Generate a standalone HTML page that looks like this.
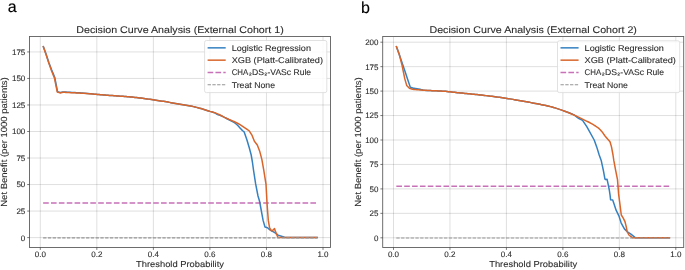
<!DOCTYPE html>
<html><head><meta charset="utf-8"><style>
html,body{margin:0;padding:0;background:#fff;width:685px;height:270px;overflow:hidden;font-family:"Liberation Sans", sans-serif;}
svg{display:block;will-change:transform}
</style></head><body>
<svg text-rendering="geometricPrecision" width="685" height="270" viewBox="0 0 685 270" font-family='"Liberation Sans", sans-serif'>
<rect width="685" height="270" fill="#ffffff"/>
<text x="7.7" y="12.3" font-size="16" fill="#000" stroke="#000" stroke-width="0.12">a</text>
<text x="361.1" y="12.5" font-size="16" fill="#000" stroke="#000" stroke-width="0.12">b</text>
<line x1="40.30" y1="36.5" x2="40.30" y2="247.5" stroke="#000" stroke-opacity="0.16" stroke-width="0.8"/>
<line x1="96.84" y1="36.5" x2="96.84" y2="247.5" stroke="#000" stroke-opacity="0.16" stroke-width="0.8"/>
<line x1="153.38" y1="36.5" x2="153.38" y2="247.5" stroke="#000" stroke-opacity="0.16" stroke-width="0.8"/>
<line x1="209.92" y1="36.5" x2="209.92" y2="247.5" stroke="#000" stroke-opacity="0.16" stroke-width="0.8"/>
<line x1="266.46" y1="36.5" x2="266.46" y2="247.5" stroke="#000" stroke-opacity="0.16" stroke-width="0.8"/>
<line x1="323.00" y1="36.5" x2="323.00" y2="247.5" stroke="#000" stroke-opacity="0.16" stroke-width="0.8"/>
<line x1="29.5" y1="237.60" x2="330.5" y2="237.60" stroke="#000" stroke-opacity="0.16" stroke-width="0.8"/>
<line x1="29.5" y1="211.07" x2="330.5" y2="211.07" stroke="#000" stroke-opacity="0.16" stroke-width="0.8"/>
<line x1="29.5" y1="184.55" x2="330.5" y2="184.55" stroke="#000" stroke-opacity="0.16" stroke-width="0.8"/>
<line x1="29.5" y1="158.03" x2="330.5" y2="158.03" stroke="#000" stroke-opacity="0.16" stroke-width="0.8"/>
<line x1="29.5" y1="131.50" x2="330.5" y2="131.50" stroke="#000" stroke-opacity="0.16" stroke-width="0.8"/>
<line x1="29.5" y1="104.97" x2="330.5" y2="104.97" stroke="#000" stroke-opacity="0.16" stroke-width="0.8"/>
<line x1="29.5" y1="78.45" x2="330.5" y2="78.45" stroke="#000" stroke-opacity="0.16" stroke-width="0.8"/>
<line x1="29.5" y1="51.93" x2="330.5" y2="51.93" stroke="#000" stroke-opacity="0.16" stroke-width="0.8"/>
<line x1="43.13" y1="203.01" x2="317.35" y2="203.01" stroke="#c772b8" stroke-width="1.6" stroke-dasharray="5.65 2.21"/>
<path d="M43.10,45.90 L45.95,53.80 L48.80,62.40 L51.60,69.80 L54.70,77.20 L57.50,91.70 L60.20,92.50 L63.00,91.90 L64.50,91.99 L66.00,92.09 L67.50,92.18 L69.00,92.26 L70.50,92.35 L72.00,92.43 L73.50,92.51 L75.00,92.59 L76.50,92.67 L78.00,92.75 L79.50,92.84 L81.00,92.94 L82.50,93.05 L84.00,93.17 L85.50,93.30 L87.00,93.44 L88.50,93.58 L90.00,93.73 L91.50,93.87 L93.00,94.01 L94.50,94.15 L96.00,94.29 L97.50,94.42 L99.00,94.54 L100.50,94.67 L102.00,94.79 L103.50,94.91 L105.00,95.03 L106.50,95.15 L108.00,95.26 L109.50,95.38 L111.00,95.49 L112.50,95.60 L114.00,95.71 L115.50,95.82 L117.00,95.92 L118.50,96.02 L120.00,96.13 L121.50,96.23 L123.00,96.34 L124.50,96.46 L126.00,96.58 L127.50,96.71 L129.00,96.83 L130.50,96.97 L132.00,97.11 L133.50,97.25 L135.00,97.40 L136.50,97.56 L138.00,97.72 L139.50,97.90 L141.00,98.08 L142.50,98.27 L144.00,98.47 L145.50,98.67 L147.00,98.89 L148.50,99.12 L150.00,99.36 L151.50,99.60 L153.00,99.84 L154.50,100.06 L156.00,100.28 L157.50,100.49 L159.00,100.71 L160.50,100.92 L162.00,101.14 L163.50,101.36 L165.00,101.60 L166.50,101.85 L168.00,102.11 L169.50,102.38 L171.00,102.65 L172.50,102.94 L174.00,103.22 L175.50,103.50 L177.00,103.77 L178.50,104.04 L180.00,104.30 L181.50,104.54 L183.00,104.77 L184.50,105.00 L186.00,105.22 L187.50,105.46 L189.00,105.71 L190.50,106.00 L192.00,106.31 L193.50,106.64 L195.00,107.00 L196.50,107.38 L198.00,107.77 L199.50,108.17 L201.00,108.58 L202.50,109.02 L204.00,109.49 L205.50,109.97 L207.00,110.45 L208.50,110.93 L210.00,111.40 L211.50,111.81 L213.00,112.20 L214.50,112.70 L216.00,113.56 L217.50,114.60 L219.00,115.03 L220.50,115.48 L222.00,116.15 L223.50,116.92 L225.00,117.70 L226.50,118.46 L228.00,119.24 L229.50,120.03 L231.00,120.83 L232.50,121.60 L234.00,122.45 L235.50,123.47 L237.00,124.75 L238.50,126.22 L240.00,127.90 L241.50,129.60 L243.00,130.98 L244.10,131.80 L246.80,139.50 L249.20,147.50 L251.20,155.00 L252.40,162.00 L253.50,170.00 L255.60,183.70 L258.00,196.00 L259.50,201.00 L261.00,209.00 L263.10,220.40 L265.00,227.00 L267.50,227.80 L269.90,229.90 L274.80,232.70 L278.10,235.10 L283.00,236.70 L285.50,237.60 L317.80,237.60" fill="none" stroke="#3580c0" stroke-width="1.5" stroke-linejoin="round"/>
<path d="M43.10,45.90 L45.95,54.20 L48.80,63.00 L51.60,71.00 L54.40,77.90 L57.30,92.00 L60.10,92.90 L63.00,92.20 L64.50,92.30 L66.00,92.39 L67.50,92.48 L69.00,92.57 L70.50,92.65 L72.00,92.72 L73.50,92.78 L75.00,92.85 L76.50,92.91 L78.00,92.98 L79.50,93.05 L81.00,93.13 L82.50,93.23 L84.00,93.33 L85.50,93.44 L87.00,93.56 L88.50,93.68 L90.00,93.80 L91.50,93.92 L93.00,94.05 L94.50,94.17 L96.00,94.30 L97.50,94.42 L99.00,94.53 L100.50,94.65 L102.00,94.78 L103.50,94.90 L105.00,95.02 L106.50,95.14 L108.00,95.26 L109.50,95.38 L111.00,95.49 L112.50,95.60 L114.00,95.71 L115.50,95.82 L117.00,95.92 L118.50,96.02 L120.00,96.13 L121.50,96.23 L123.00,96.34 L124.50,96.46 L126.00,96.58 L127.50,96.71 L129.00,96.83 L130.50,96.97 L132.00,97.11 L133.50,97.25 L135.00,97.40 L136.50,97.56 L138.00,97.72 L139.50,97.90 L141.00,98.08 L142.50,98.27 L144.00,98.47 L145.50,98.67 L147.00,98.89 L148.50,99.12 L150.00,99.36 L151.50,99.60 L153.00,99.84 L154.50,100.06 L156.00,100.28 L157.50,100.49 L159.00,100.71 L160.50,100.92 L162.00,101.14 L163.50,101.36 L165.00,101.60 L166.50,101.85 L168.00,102.11 L169.50,102.38 L171.00,102.65 L172.50,102.94 L174.00,103.22 L175.50,103.50 L177.00,103.77 L178.50,104.04 L180.00,104.30 L181.50,104.54 L183.00,104.77 L184.50,105.00 L186.00,105.22 L187.50,105.46 L189.00,105.71 L190.50,106.00 L192.00,106.31 L193.50,106.64 L195.00,107.00 L196.50,107.38 L198.00,107.77 L199.50,108.17 L201.00,108.58 L202.50,109.03 L204.00,109.50 L205.50,109.98 L207.00,110.47 L208.50,110.95 L210.00,111.40 L211.50,111.81 L213.00,112.20 L214.50,112.64 L216.00,113.17 L217.50,113.82 L219.00,114.52 L220.50,115.24 L222.00,116.03 L223.50,116.84 L225.00,117.60 L226.50,118.29 L228.00,118.94 L229.50,119.58 L231.00,120.23 L232.50,120.88 L234.00,121.54 L235.50,122.24 L237.00,122.98 L238.50,123.76 L240.00,124.60 L241.50,125.52 L243.00,126.52 L244.50,127.54 L246.00,128.58 L247.50,129.65 L249.00,130.75 L249.20,130.90 L252.10,135.40 L254.40,141.30 L257.30,145.00 L259.60,150.90 L261.80,159.10 L263.80,170.40 L266.00,184.40 L267.20,205.80 L268.30,220.40 L269.60,227.80 L271.60,231.00 L272.90,230.20 L274.50,228.60 L275.60,231.90 L277.30,235.90 L278.10,237.60 L317.80,237.60" fill="none" stroke="#d9652a" stroke-width="1.5" stroke-linejoin="round"/>
<line x1="43.13" y1="237.85" x2="317.35" y2="237.85" stroke="#959595" stroke-width="1.1" stroke-dasharray="3.33 1.44"/>
<rect x="29.5" y="36.5" width="301.0" height="211.0" fill="none" stroke="#5e5e5e" stroke-width="0.9"/>
<line x1="40.30" y1="247.5" x2="40.30" y2="249.9" stroke="#333" stroke-width="0.65"/>
<text x="40.30" y="257.0" font-size="7.9" text-anchor="middle" fill="#2c2c2c" stroke="#2c2c2c" stroke-width="0.1" textLength="11.2" lengthAdjust="spacingAndGlyphs">0.0</text>
<line x1="96.84" y1="247.5" x2="96.84" y2="249.9" stroke="#333" stroke-width="0.65"/>
<text x="96.84" y="257.0" font-size="7.9" text-anchor="middle" fill="#2c2c2c" stroke="#2c2c2c" stroke-width="0.1" textLength="11.2" lengthAdjust="spacingAndGlyphs">0.2</text>
<line x1="153.38" y1="247.5" x2="153.38" y2="249.9" stroke="#333" stroke-width="0.65"/>
<text x="153.38" y="257.0" font-size="7.9" text-anchor="middle" fill="#2c2c2c" stroke="#2c2c2c" stroke-width="0.1" textLength="11.2" lengthAdjust="spacingAndGlyphs">0.4</text>
<line x1="209.92" y1="247.5" x2="209.92" y2="249.9" stroke="#333" stroke-width="0.65"/>
<text x="209.92" y="257.0" font-size="7.9" text-anchor="middle" fill="#2c2c2c" stroke="#2c2c2c" stroke-width="0.1" textLength="11.2" lengthAdjust="spacingAndGlyphs">0.6</text>
<line x1="266.46" y1="247.5" x2="266.46" y2="249.9" stroke="#333" stroke-width="0.65"/>
<text x="266.46" y="257.0" font-size="7.9" text-anchor="middle" fill="#2c2c2c" stroke="#2c2c2c" stroke-width="0.1" textLength="11.2" lengthAdjust="spacingAndGlyphs">0.8</text>
<line x1="323.00" y1="247.5" x2="323.00" y2="249.9" stroke="#333" stroke-width="0.65"/>
<text x="323.00" y="257.0" font-size="7.9" text-anchor="middle" fill="#2c2c2c" stroke="#2c2c2c" stroke-width="0.1" textLength="11.2" lengthAdjust="spacingAndGlyphs">1.0</text>
<line x1="27.2" y1="237.60" x2="29.5" y2="237.60" stroke="#333" stroke-width="0.65"/>
<text x="25.30" y="240.50" font-size="7.9" text-anchor="end" fill="#2c2c2c" stroke="#2c2c2c" stroke-width="0.1" textLength="4.45" lengthAdjust="spacingAndGlyphs">0</text>
<line x1="27.2" y1="211.07" x2="29.5" y2="211.07" stroke="#333" stroke-width="0.65"/>
<text x="25.30" y="213.97" font-size="7.9" text-anchor="end" fill="#2c2c2c" stroke="#2c2c2c" stroke-width="0.1" textLength="8.9" lengthAdjust="spacingAndGlyphs">25</text>
<line x1="27.2" y1="184.55" x2="29.5" y2="184.55" stroke="#333" stroke-width="0.65"/>
<text x="25.30" y="187.45" font-size="7.9" text-anchor="end" fill="#2c2c2c" stroke="#2c2c2c" stroke-width="0.1" textLength="8.9" lengthAdjust="spacingAndGlyphs">50</text>
<line x1="27.2" y1="158.03" x2="29.5" y2="158.03" stroke="#333" stroke-width="0.65"/>
<text x="25.30" y="160.93" font-size="7.9" text-anchor="end" fill="#2c2c2c" stroke="#2c2c2c" stroke-width="0.1" textLength="8.9" lengthAdjust="spacingAndGlyphs">75</text>
<line x1="27.2" y1="131.50" x2="29.5" y2="131.50" stroke="#333" stroke-width="0.65"/>
<text x="25.30" y="134.40" font-size="7.9" text-anchor="end" fill="#2c2c2c" stroke="#2c2c2c" stroke-width="0.1" textLength="13.350000000000001" lengthAdjust="spacingAndGlyphs">100</text>
<line x1="27.2" y1="104.97" x2="29.5" y2="104.97" stroke="#333" stroke-width="0.65"/>
<text x="25.30" y="107.88" font-size="7.9" text-anchor="end" fill="#2c2c2c" stroke="#2c2c2c" stroke-width="0.1" textLength="13.350000000000001" lengthAdjust="spacingAndGlyphs">125</text>
<line x1="27.2" y1="78.45" x2="29.5" y2="78.45" stroke="#333" stroke-width="0.65"/>
<text x="25.30" y="81.35" font-size="7.9" text-anchor="end" fill="#2c2c2c" stroke="#2c2c2c" stroke-width="0.1" textLength="13.350000000000001" lengthAdjust="spacingAndGlyphs">150</text>
<line x1="27.2" y1="51.93" x2="29.5" y2="51.93" stroke="#333" stroke-width="0.65"/>
<text x="25.30" y="54.83" font-size="7.9" text-anchor="end" fill="#2c2c2c" stroke="#2c2c2c" stroke-width="0.1" textLength="13.350000000000001" lengthAdjust="spacingAndGlyphs">175</text>
<text x="180.00" y="33.1" font-size="9.7" text-anchor="middle" fill="#2c2c2c" stroke="#2c2c2c" stroke-width="0.1" textLength="207.5" lengthAdjust="spacingAndGlyphs">Decision Curve Analysis (External Cohort 1)</text>
<text x="180.00" y="267.2" font-size="8.6" text-anchor="middle" fill="#2c2c2c" stroke="#2c2c2c" stroke-width="0.1" textLength="88.0" lengthAdjust="spacingAndGlyphs">Threshold Probability</text>
<text transform="translate(7.4,142.00) rotate(-90)" x="0" y="0" font-size="8.9" text-anchor="middle" fill="#2c2c2c" stroke="#2c2c2c" stroke-width="0.1" textLength="129.5" lengthAdjust="spacingAndGlyphs">Net Benefit (per 1000 patients)</text>
<rect x="204.60" y="40.5" width="122.20" height="52.10" rx="1.8" fill="#ffffff" fill-opacity="0.85" stroke="#d9d9d9" stroke-width="0.8"/>
<line x1="207.60" y1="47.85" x2="225.70" y2="47.85" stroke="#3580c0" stroke-width="1.5"/>
<line x1="207.60" y1="60.15" x2="225.70" y2="60.15" stroke="#d9652a" stroke-width="1.5"/>
<line x1="207.60" y1="72.5" x2="225.70" y2="72.5" stroke="#c772b8" stroke-width="1.6" stroke-dasharray="5.65 2.21"/>
<line x1="207.60" y1="84.8" x2="225.70" y2="84.8" stroke="#959595" stroke-width="1.1" stroke-dasharray="3.33 1.44"/>
<text x="231.70" y="50.75" font-size="8.4" fill="#2c2c2c" stroke="#2c2c2c" stroke-width="0.1" textLength="79.3" lengthAdjust="spacingAndGlyphs">Logistic Regression</text>
<text x="231.70" y="63.05" font-size="8.4" fill="#2c2c2c" stroke="#2c2c2c" stroke-width="0.1" textLength="91.3" lengthAdjust="spacingAndGlyphs">XGB (Platt-Calibrated)</text>
<text x="231.70" y="75.40" font-size="8.4" fill="#2c2c2c" stroke="#2c2c2c" stroke-width="0.1" textLength="16.6" lengthAdjust="spacingAndGlyphs">CHA</text>
<text x="252.05" y="75.40" font-size="8.4" fill="#2c2c2c" stroke="#2c2c2c" stroke-width="0.1" textLength="12.0" lengthAdjust="spacingAndGlyphs">DS</text>
<text x="267.45" y="75.40" font-size="8.4" fill="#2c2c2c" stroke="#2c2c2c" stroke-width="0.1" textLength="43.7" lengthAdjust="spacingAndGlyphs">-VASc Rule</text>
<path d="M249.20,73.40 Q249.50,72.80 250.30,72.80 Q251.20,72.80 251.20,73.55 Q251.20,74.10 249.30,75.15 L251.40,75.15" fill="none" stroke="#2c2c2c" stroke-width="0.75"/>
<path d="M264.70,73.40 Q265.00,72.80 265.80,72.80 Q266.70,72.80 266.70,73.55 Q266.70,74.10 264.80,75.15 L266.90,75.15" fill="none" stroke="#2c2c2c" stroke-width="0.75"/>
<text x="231.70" y="87.70" font-size="8.4" fill="#2c2c2c" stroke="#2c2c2c" stroke-width="0.1" textLength="43.3" lengthAdjust="spacingAndGlyphs">Treat None</text>
<line x1="393.50" y1="36.5" x2="393.50" y2="247.5" stroke="#000" stroke-opacity="0.16" stroke-width="0.8"/>
<line x1="449.96" y1="36.5" x2="449.96" y2="247.5" stroke="#000" stroke-opacity="0.16" stroke-width="0.8"/>
<line x1="506.42" y1="36.5" x2="506.42" y2="247.5" stroke="#000" stroke-opacity="0.16" stroke-width="0.8"/>
<line x1="562.88" y1="36.5" x2="562.88" y2="247.5" stroke="#000" stroke-opacity="0.16" stroke-width="0.8"/>
<line x1="619.34" y1="36.5" x2="619.34" y2="247.5" stroke="#000" stroke-opacity="0.16" stroke-width="0.8"/>
<line x1="675.80" y1="36.5" x2="675.80" y2="247.5" stroke="#000" stroke-opacity="0.16" stroke-width="0.8"/>
<line x1="382.7" y1="237.80" x2="683.7" y2="237.80" stroke="#000" stroke-opacity="0.16" stroke-width="0.8"/>
<line x1="382.7" y1="213.35" x2="683.7" y2="213.35" stroke="#000" stroke-opacity="0.16" stroke-width="0.8"/>
<line x1="382.7" y1="188.90" x2="683.7" y2="188.90" stroke="#000" stroke-opacity="0.16" stroke-width="0.8"/>
<line x1="382.7" y1="164.45" x2="683.7" y2="164.45" stroke="#000" stroke-opacity="0.16" stroke-width="0.8"/>
<line x1="382.7" y1="140.00" x2="683.7" y2="140.00" stroke="#000" stroke-opacity="0.16" stroke-width="0.8"/>
<line x1="382.7" y1="115.55" x2="683.7" y2="115.55" stroke="#000" stroke-opacity="0.16" stroke-width="0.8"/>
<line x1="382.7" y1="91.10" x2="683.7" y2="91.10" stroke="#000" stroke-opacity="0.16" stroke-width="0.8"/>
<line x1="382.7" y1="66.65" x2="683.7" y2="66.65" stroke="#000" stroke-opacity="0.16" stroke-width="0.8"/>
<line x1="382.7" y1="42.20" x2="683.7" y2="42.20" stroke="#000" stroke-opacity="0.16" stroke-width="0.8"/>
<line x1="396.32" y1="186.26" x2="670.15" y2="186.26" stroke="#c772b8" stroke-width="1.6" stroke-dasharray="5.65 2.21"/>
<path d="M396.20,45.90 L399.10,54.00 L401.90,62.20 L404.80,70.80 L407.60,79.30 L410.30,87.20 L413.50,88.20 L414.00,88.27 L415.50,88.49 L417.00,88.73 L418.50,88.99 L420.00,89.32 L421.50,89.68 L423.00,90.01 L424.50,90.25 L426.00,90.38 L427.50,90.47 L429.00,90.55 L430.50,90.62 L432.00,90.68 L433.50,90.73 L435.00,90.78 L436.50,90.83 L438.00,90.90 L439.50,90.97 L441.00,91.06 L442.50,91.16 L444.00,91.26 L445.50,91.37 L447.00,91.49 L448.50,91.63 L450.00,91.77 L451.50,91.95 L453.00,92.15 L454.50,92.34 L456.00,92.51 L457.50,92.67 L459.00,92.82 L460.50,92.97 L462.00,93.12 L463.50,93.26 L465.00,93.41 L466.50,93.55 L468.00,93.70 L469.50,93.85 L471.00,94.00 L472.50,94.16 L474.00,94.31 L475.50,94.47 L477.00,94.62 L478.50,94.78 L480.00,94.94 L481.50,95.10 L483.00,95.27 L484.50,95.44 L486.00,95.62 L487.50,95.79 L489.00,95.97 L490.50,96.16 L492.00,96.34 L493.50,96.53 L495.00,96.72 L496.50,96.92 L498.00,97.12 L499.50,97.32 L501.00,97.53 L502.50,97.74 L504.00,97.95 L505.50,98.17 L507.00,98.40 L508.50,98.64 L510.00,98.88 L511.50,99.13 L513.00,99.38 L514.50,99.64 L516.00,99.90 L517.50,100.16 L519.00,100.42 L520.50,100.69 L522.00,100.96 L523.50,101.23 L525.00,101.50 L526.50,101.78 L528.00,102.06 L529.50,102.34 L531.00,102.62 L532.50,102.91 L534.00,103.20 L535.50,103.50 L537.00,103.79 L538.50,104.07 L540.00,104.36 L541.50,104.65 L543.00,104.95 L544.50,105.25 L546.00,105.57 L547.50,105.90 L549.00,106.25 L550.50,106.63 L552.00,107.03 L553.50,107.45 L555.00,107.90 L556.50,108.37 L558.00,108.86 L559.50,109.37 L561.00,109.88 L562.50,110.40 L564.00,110.92 L565.50,111.43 L567.00,111.95 L568.50,112.49 L570.00,113.08 L571.50,113.72 L573.00,114.45 L574.50,115.26 L576.00,116.45 L577.50,117.59 L579.00,118.50 L580.50,119.30 L582.00,119.95 L582.40,120.10 L586.80,126.60 L594.20,140.00 L596.70,146.90 L599.20,155.00 L601.20,160.40 L603.40,170.70 L604.90,178.90 L605.60,179.60 L607.10,179.30 L608.10,184.10 L609.30,190.00 L610.10,195.40 L610.60,199.80 L612.70,200.10 L613.90,203.50 L616.10,210.20 L619.00,216.10 L621.10,222.80 L624.40,228.90 L627.80,232.20 L630.60,233.90 L635.60,237.80 L670.10,237.80" fill="none" stroke="#3580c0" stroke-width="1.5" stroke-linejoin="round"/>
<path d="M396.20,45.90 L399.10,53.90 L402.00,65.00 L404.80,78.90 L406.70,85.40 L409.40,88.20 L412.50,89.30 L414.00,89.43 L415.50,89.55 L417.00,89.67 L418.50,89.80 L420.00,89.93 L421.50,90.05 L423.00,90.17 L424.50,90.27 L426.00,90.36 L427.50,90.44 L429.00,90.51 L430.50,90.57 L432.00,90.63 L433.50,90.69 L435.00,90.75 L436.50,90.82 L438.00,90.89 L439.50,90.97 L441.00,91.06 L442.50,91.16 L444.00,91.26 L445.50,91.37 L447.00,91.49 L448.50,91.63 L450.00,91.77 L451.50,91.95 L453.00,92.15 L454.50,92.34 L456.00,92.51 L457.50,92.67 L459.00,92.82 L460.50,92.97 L462.00,93.12 L463.50,93.26 L465.00,93.41 L466.50,93.55 L468.00,93.70 L469.50,93.85 L471.00,94.00 L472.50,94.16 L474.00,94.31 L475.50,94.47 L477.00,94.62 L478.50,94.78 L480.00,94.94 L481.50,95.10 L483.00,95.27 L484.50,95.44 L486.00,95.62 L487.50,95.79 L489.00,95.97 L490.50,96.16 L492.00,96.34 L493.50,96.53 L495.00,96.72 L496.50,96.92 L498.00,97.12 L499.50,97.32 L501.00,97.53 L502.50,97.74 L504.00,97.95 L505.50,98.17 L507.00,98.40 L508.50,98.64 L510.00,98.88 L511.50,99.13 L513.00,99.38 L514.50,99.64 L516.00,99.90 L517.50,100.16 L519.00,100.42 L520.50,100.69 L522.00,100.96 L523.50,101.23 L525.00,101.50 L526.50,101.78 L528.00,102.06 L529.50,102.34 L531.00,102.62 L532.50,102.91 L534.00,103.20 L535.50,103.50 L537.00,103.79 L538.50,104.07 L540.00,104.36 L541.50,104.65 L543.00,104.95 L544.50,105.25 L546.00,105.57 L547.50,105.90 L549.00,106.25 L550.50,106.63 L552.00,107.03 L553.50,107.45 L555.00,107.90 L556.50,108.37 L558.00,108.86 L559.50,109.37 L561.00,109.88 L562.50,110.41 L564.00,110.95 L565.50,111.51 L567.00,112.10 L568.50,112.70 L570.00,113.31 L571.50,113.95 L573.00,114.59 L574.50,115.24 L576.00,115.92 L577.50,116.61 L579.00,117.33 L580.50,118.06 L582.00,118.80 L583.50,119.55 L585.00,120.30 L586.50,121.05 L588.00,121.78 L589.50,122.54 L591.00,123.33 L592.50,124.19 L594.00,125.08 L595.50,126.00 L597.00,127.01 L598.50,128.16 L600.00,129.48 L601.50,131.13 L603.00,133.08 L604.50,135.25 L604.80,135.70 L610.00,141.70 L611.50,146.90 L613.00,155.00 L613.80,160.40 L615.70,170.70 L617.50,179.60 L618.60,193.90 L620.10,205.70 L621.30,215.00 L623.10,217.80 L625.00,221.70 L626.10,226.10 L627.20,231.70 L628.90,235.00 L631.70,237.20 L633.00,237.80 L670.10,237.80" fill="none" stroke="#d9652a" stroke-width="1.5" stroke-linejoin="round"/>
<line x1="396.32" y1="238.05" x2="670.15" y2="238.05" stroke="#959595" stroke-width="1.1" stroke-dasharray="3.33 1.44"/>
<rect x="382.7" y="36.5" width="301.00000000000006" height="211.0" fill="none" stroke="#5e5e5e" stroke-width="0.9"/>
<line x1="393.50" y1="247.5" x2="393.50" y2="249.9" stroke="#333" stroke-width="0.65"/>
<text x="393.50" y="257.0" font-size="7.9" text-anchor="middle" fill="#2c2c2c" stroke="#2c2c2c" stroke-width="0.1" textLength="11.2" lengthAdjust="spacingAndGlyphs">0.0</text>
<line x1="449.96" y1="247.5" x2="449.96" y2="249.9" stroke="#333" stroke-width="0.65"/>
<text x="449.96" y="257.0" font-size="7.9" text-anchor="middle" fill="#2c2c2c" stroke="#2c2c2c" stroke-width="0.1" textLength="11.2" lengthAdjust="spacingAndGlyphs">0.2</text>
<line x1="506.42" y1="247.5" x2="506.42" y2="249.9" stroke="#333" stroke-width="0.65"/>
<text x="506.42" y="257.0" font-size="7.9" text-anchor="middle" fill="#2c2c2c" stroke="#2c2c2c" stroke-width="0.1" textLength="11.2" lengthAdjust="spacingAndGlyphs">0.4</text>
<line x1="562.88" y1="247.5" x2="562.88" y2="249.9" stroke="#333" stroke-width="0.65"/>
<text x="562.88" y="257.0" font-size="7.9" text-anchor="middle" fill="#2c2c2c" stroke="#2c2c2c" stroke-width="0.1" textLength="11.2" lengthAdjust="spacingAndGlyphs">0.6</text>
<line x1="619.34" y1="247.5" x2="619.34" y2="249.9" stroke="#333" stroke-width="0.65"/>
<text x="619.34" y="257.0" font-size="7.9" text-anchor="middle" fill="#2c2c2c" stroke="#2c2c2c" stroke-width="0.1" textLength="11.2" lengthAdjust="spacingAndGlyphs">0.8</text>
<line x1="675.80" y1="247.5" x2="675.80" y2="249.9" stroke="#333" stroke-width="0.65"/>
<text x="675.80" y="257.0" font-size="7.9" text-anchor="middle" fill="#2c2c2c" stroke="#2c2c2c" stroke-width="0.1" textLength="11.2" lengthAdjust="spacingAndGlyphs">1.0</text>
<line x1="380.4" y1="237.80" x2="382.7" y2="237.80" stroke="#333" stroke-width="0.65"/>
<text x="378.50" y="240.70" font-size="7.9" text-anchor="end" fill="#2c2c2c" stroke="#2c2c2c" stroke-width="0.1" textLength="4.45" lengthAdjust="spacingAndGlyphs">0</text>
<line x1="380.4" y1="213.35" x2="382.7" y2="213.35" stroke="#333" stroke-width="0.65"/>
<text x="378.50" y="216.25" font-size="7.9" text-anchor="end" fill="#2c2c2c" stroke="#2c2c2c" stroke-width="0.1" textLength="8.9" lengthAdjust="spacingAndGlyphs">25</text>
<line x1="380.4" y1="188.90" x2="382.7" y2="188.90" stroke="#333" stroke-width="0.65"/>
<text x="378.50" y="191.80" font-size="7.9" text-anchor="end" fill="#2c2c2c" stroke="#2c2c2c" stroke-width="0.1" textLength="8.9" lengthAdjust="spacingAndGlyphs">50</text>
<line x1="380.4" y1="164.45" x2="382.7" y2="164.45" stroke="#333" stroke-width="0.65"/>
<text x="378.50" y="167.35" font-size="7.9" text-anchor="end" fill="#2c2c2c" stroke="#2c2c2c" stroke-width="0.1" textLength="8.9" lengthAdjust="spacingAndGlyphs">75</text>
<line x1="380.4" y1="140.00" x2="382.7" y2="140.00" stroke="#333" stroke-width="0.65"/>
<text x="378.50" y="142.90" font-size="7.9" text-anchor="end" fill="#2c2c2c" stroke="#2c2c2c" stroke-width="0.1" textLength="13.350000000000001" lengthAdjust="spacingAndGlyphs">100</text>
<line x1="380.4" y1="115.55" x2="382.7" y2="115.55" stroke="#333" stroke-width="0.65"/>
<text x="378.50" y="118.45" font-size="7.9" text-anchor="end" fill="#2c2c2c" stroke="#2c2c2c" stroke-width="0.1" textLength="13.350000000000001" lengthAdjust="spacingAndGlyphs">125</text>
<line x1="380.4" y1="91.10" x2="382.7" y2="91.10" stroke="#333" stroke-width="0.65"/>
<text x="378.50" y="94.00" font-size="7.9" text-anchor="end" fill="#2c2c2c" stroke="#2c2c2c" stroke-width="0.1" textLength="13.350000000000001" lengthAdjust="spacingAndGlyphs">150</text>
<line x1="380.4" y1="66.65" x2="382.7" y2="66.65" stroke="#333" stroke-width="0.65"/>
<text x="378.50" y="69.55" font-size="7.9" text-anchor="end" fill="#2c2c2c" stroke="#2c2c2c" stroke-width="0.1" textLength="13.350000000000001" lengthAdjust="spacingAndGlyphs">175</text>
<line x1="380.4" y1="42.20" x2="382.7" y2="42.20" stroke="#333" stroke-width="0.65"/>
<text x="378.50" y="45.10" font-size="7.9" text-anchor="end" fill="#2c2c2c" stroke="#2c2c2c" stroke-width="0.1" textLength="13.350000000000001" lengthAdjust="spacingAndGlyphs">200</text>
<text x="533.20" y="33.1" font-size="9.7" text-anchor="middle" fill="#2c2c2c" stroke="#2c2c2c" stroke-width="0.1" textLength="207.5" lengthAdjust="spacingAndGlyphs">Decision Curve Analysis (External Cohort 2)</text>
<text x="533.20" y="267.2" font-size="8.6" text-anchor="middle" fill="#2c2c2c" stroke="#2c2c2c" stroke-width="0.1" textLength="88.0" lengthAdjust="spacingAndGlyphs">Threshold Probability</text>
<text transform="translate(360.6,142.00) rotate(-90)" x="0" y="0" font-size="8.9" text-anchor="middle" fill="#2c2c2c" stroke="#2c2c2c" stroke-width="0.1" textLength="129.5" lengthAdjust="spacingAndGlyphs">Net Benefit (per 1000 patients)</text>
<rect x="557.50" y="40.8" width="122.20" height="51.80" rx="1.8" fill="#ffffff" fill-opacity="0.85" stroke="#d9d9d9" stroke-width="0.8"/>
<line x1="560.50" y1="47.85" x2="578.60" y2="47.85" stroke="#3580c0" stroke-width="1.5"/>
<line x1="560.50" y1="60.15" x2="578.60" y2="60.15" stroke="#d9652a" stroke-width="1.5"/>
<line x1="560.50" y1="72.5" x2="578.60" y2="72.5" stroke="#c772b8" stroke-width="1.6" stroke-dasharray="5.65 2.21"/>
<line x1="560.50" y1="84.8" x2="578.60" y2="84.8" stroke="#959595" stroke-width="1.1" stroke-dasharray="3.33 1.44"/>
<text x="584.60" y="50.75" font-size="8.4" fill="#2c2c2c" stroke="#2c2c2c" stroke-width="0.1" textLength="79.3" lengthAdjust="spacingAndGlyphs">Logistic Regression</text>
<text x="584.60" y="63.05" font-size="8.4" fill="#2c2c2c" stroke="#2c2c2c" stroke-width="0.1" textLength="91.3" lengthAdjust="spacingAndGlyphs">XGB (Platt-Calibrated)</text>
<text x="584.60" y="75.40" font-size="8.4" fill="#2c2c2c" stroke="#2c2c2c" stroke-width="0.1" textLength="16.6" lengthAdjust="spacingAndGlyphs">CHA</text>
<text x="604.95" y="75.40" font-size="8.4" fill="#2c2c2c" stroke="#2c2c2c" stroke-width="0.1" textLength="12.0" lengthAdjust="spacingAndGlyphs">DS</text>
<text x="620.35" y="75.40" font-size="8.4" fill="#2c2c2c" stroke="#2c2c2c" stroke-width="0.1" textLength="43.7" lengthAdjust="spacingAndGlyphs">-VASc Rule</text>
<path d="M602.10,73.40 Q602.40,72.80 603.20,72.80 Q604.10,72.80 604.10,73.55 Q604.10,74.10 602.20,75.15 L604.30,75.15" fill="none" stroke="#2c2c2c" stroke-width="0.75"/>
<path d="M617.60,73.40 Q617.90,72.80 618.70,72.80 Q619.60,72.80 619.60,73.55 Q619.60,74.10 617.70,75.15 L619.80,75.15" fill="none" stroke="#2c2c2c" stroke-width="0.75"/>
<text x="584.60" y="87.70" font-size="8.4" fill="#2c2c2c" stroke="#2c2c2c" stroke-width="0.1" textLength="43.3" lengthAdjust="spacingAndGlyphs">Treat None</text>
</svg>
</body></html>
